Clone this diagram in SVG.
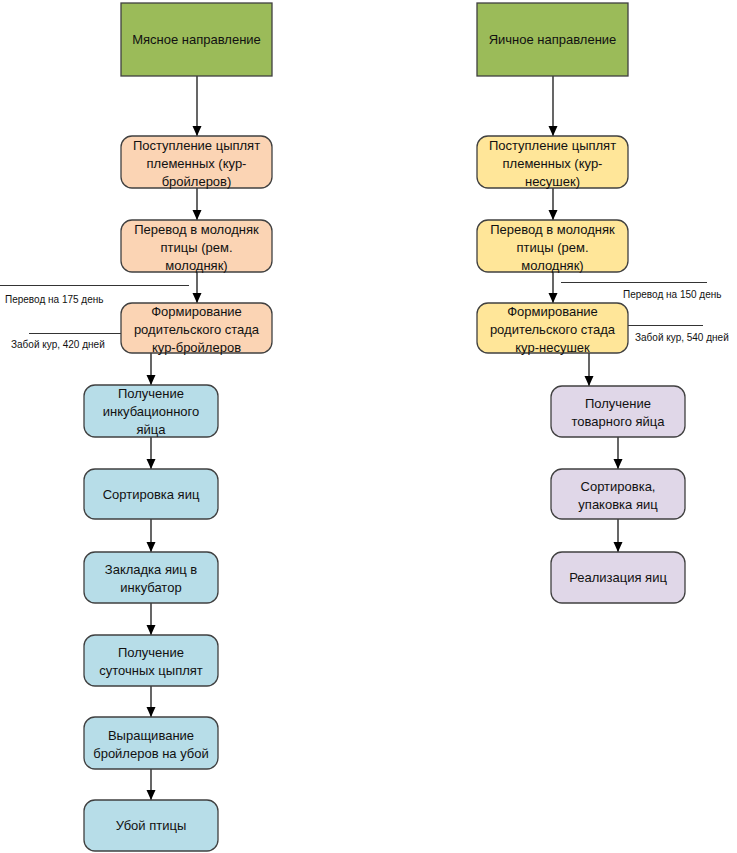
<svg xmlns="http://www.w3.org/2000/svg" width="737" height="853" viewBox="0 0 737 853">
<style>
rect{stroke:#404040;stroke-width:1.3}
rect.bg{stroke:none;fill:#fff}
.g{fill:#9BBB59;stroke:#404040}
.o{fill:#FBD4B4}
.y{fill:#FFE699}
.b{fill:#B7DDE8}
.p{fill:#E0D7E8}
text{font-family:"Liberation Sans",Arial,sans-serif;font-size:13px;fill:#111;text-anchor:middle}
.s{font-size:10px;text-anchor:start}
.c line{stroke:#000;stroke-width:0.8}
.a line{stroke:#000;stroke-width:1.2;marker-end:url(#ah)}
</style>
<defs>
<marker id="ah" viewBox="0 0 10 10" refX="10" refY="5" markerWidth="10" markerHeight="10" markerUnits="userSpaceOnUse" orient="auto"><path d="M0,0.5L10,5L0,9.5z" fill="#000"/></marker>
</defs>
<rect class="bg" x="0" y="0" width="737" height="853"/>
<g id="connectors">
<g class="a">
<line x1="197" y1="76" x2="197" y2="136"/>
<line x1="197" y1="188" x2="197" y2="220"/>
<line x1="197" y1="272" x2="197" y2="303"/>
<line x1="151" y1="353" x2="151" y2="385"/>
<line x1="151" y1="437" x2="151" y2="469"/>
<line x1="151" y1="519" x2="151" y2="552"/>
<line x1="151" y1="603" x2="151" y2="635"/>
<line x1="151" y1="686" x2="151" y2="717"/>
<line x1="151" y1="769" x2="151" y2="800"/>
<line x1="553" y1="76" x2="553" y2="136"/>
<line x1="553" y1="188" x2="553" y2="220"/>
<line x1="553" y1="272" x2="553" y2="303"/>
<line x1="589" y1="353" x2="589" y2="386"/>
<line x1="618" y1="437" x2="618" y2="469"/>
<line x1="618" y1="519" x2="618" y2="552"/>
</g>
<g class="c">
<line x1="0" y1="285.5" x2="189" y2="285.5"/>
<line x1="29" y1="333.5" x2="121" y2="333.5"/>
<line x1="561" y1="282.5" x2="707" y2="282.5"/>
<line x1="628" y1="325.5" x2="703" y2="325.5"/>
</g>
</g>
<g id="meat"><rect class="g" x="121" y="3" width="151" height="73"/><text x="196.5" y="44">Мясное направление</text></g>
<g id="egg"><rect class="g" x="477" y="3" width="151" height="73"/><text x="552.5" y="44">Яичное направление</text></g>
<g id="m1"><rect class="o" x="121" y="136" width="151" height="52" rx="11"/><text x="196.5" y="150">Поступление цыплят</text><text x="196.5" y="168">племенных (кур-</text><text x="196.5" y="186">бройлеров)</text></g>
<g id="m2"><rect class="o" x="121" y="220" width="151" height="52" rx="11"/><text x="196.5" y="234">Перевод в молодняк</text><text x="196.5" y="252">птицы (рем.</text><text x="196.5" y="270">молодняк)</text></g>
<g id="m3"><rect class="o" x="121" y="303" width="151" height="50" rx="11"/><text x="196.5" y="316">Формирование</text><text x="196.5" y="334">родительского стада</text><text x="196.5" y="352">кур-бройлеров</text></g>
<g id="e1"><rect class="y" x="477" y="136" width="151" height="52" rx="11"/><text x="552.5" y="150">Поступление цыплят</text><text x="552.5" y="168">племенных (кур-</text><text x="552.5" y="186">несушек)</text></g>
<g id="e2"><rect class="y" x="477" y="220" width="151" height="52" rx="11"/><text x="552.5" y="234">Перевод в молодняк</text><text x="552.5" y="252">птицы (рем.</text><text x="552.5" y="270">молодняк)</text></g>
<g id="e3"><rect class="y" x="477" y="303" width="151" height="50" rx="11"/><text x="552.5" y="316">Формирование</text><text x="552.5" y="334">родительского стада</text><text x="552.5" y="352">кур-несушек</text></g>
<g id="b1"><rect class="b" x="84" y="385" width="134" height="52" rx="11"/><text x="151" y="398">Получение</text><text x="151" y="416">инкубационного</text><text x="151" y="434">яйца</text></g>
<g id="b2"><rect class="b" x="84" y="469" width="134" height="50" rx="11"/><text x="151" y="499">Сортировка яиц</text></g>
<g id="b3"><rect class="b" x="84" y="552" width="134" height="51" rx="11"/><text x="151" y="574">Закладка яиц в</text><text x="151" y="592">инкубатор</text></g>
<g id="b4"><rect class="b" x="84" y="635" width="134" height="51" rx="11"/><text x="151" y="657">Получение</text><text x="151" y="675">суточных цыплят</text></g>
<g id="b5"><rect class="b" x="84" y="717" width="134" height="52" rx="11"/><text x="151" y="740">Выращивание</text><text x="151" y="758">бройлеров на убой</text></g>
<g id="b6"><rect class="b" x="84" y="800" width="134" height="51" rx="11"/><text x="151" y="830">Убой птицы</text></g>
<g id="p1"><rect class="p" x="551" y="386" width="134" height="51" rx="11"/><text x="618" y="408">Получение</text><text x="618" y="426">товарного яйца</text></g>
<g id="p2"><rect class="p" x="551" y="469" width="134" height="50" rx="11"/><text x="618" y="491">Сортировка,</text><text x="618" y="509">упаковка яиц</text></g>
<g id="p3"><rect class="p" x="551" y="552" width="134" height="51" rx="11"/><text x="618" y="582">Реализация яиц</text></g>
<g id="labels">
<text class="s" x="5" y="303">Перевод на 175 день</text>
<text class="s" x="11" y="348">Забой кур, 420 дней</text>
<text class="s" x="623" y="298">Перевод на 150 день</text>
<text class="s" x="635" y="341">Забой кур, 540 дней</text>
</g>
</svg>
